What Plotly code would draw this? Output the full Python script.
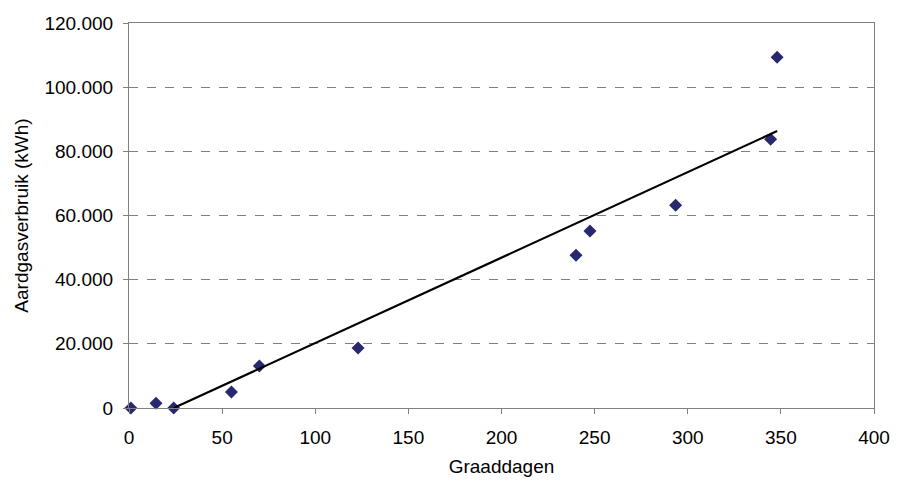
import plotly.graph_objects as go

graaddagen = [1, 14.5, 24, 55, 70, 123, 240, 247.5, 293.5, 344.5, 348]
verbruik = [0, 1500, 0, 5000, 13100, 18700, 47600, 55200, 63200, 83800, 109300]
trend_x = [24, 348]
trend_y = [0, 86300]

x_ticks = [0, 50, 100, 150, 200, 250, 300, 350, 400]
y_ticks = [0, 20000, 40000, 60000, 80000, 100000, 120000]

fig = go.Figure()
fig.add_trace(go.Scatter(
    x=graaddagen, y=verbruik, mode="markers",
    marker=dict(symbol="diamond", size=10, color="#28286e"),
    showlegend=False, cliponaxis=False,
))
fig.add_trace(go.Scatter(
    x=trend_x, y=trend_y, mode="lines",
    line=dict(color="black", width=2.2),
    showlegend=False,
))

font = dict(family="Liberation Sans, Arial, sans-serif", size=19, color="black")
fig.update_layout(
    width=906, height=481,
    margin=dict(l=121, r=40, t=15, b=81),
    plot_bgcolor="white", paper_bgcolor="white",
    separators=",.",
    font=font,
    xaxis=dict(
        range=[0, 400], tickvals=x_ticks, showgrid=False, zeroline=False,
        showline=True, linecolor="#808080", linewidth=1.2, mirror=True,
        ticks="outside", ticklen=5, tickcolor="#808080",
        ticklabelstandoff=7, automargin=False,
        title=dict(text="Graaddagen", font=font, standoff=12),
        tickfont=font,
    ),
    yaxis=dict(
        range=[0, 120000], tickvals=y_ticks, tickformat=",.0f",
        showgrid=True, gridcolor="#808080", griddash="dash", gridwidth=1,
        zeroline=False,
        showline=True, linecolor="#808080", linewidth=1.2, mirror=True,
        ticks="outside", ticklen=5, tickcolor="#808080",
        ticklabelstandoff=6, automargin=False,
        title=dict(text="Aardgasverbruik (kWh)", font=font, standoff=10),
        tickfont=font,
    ),
)
fig.write_html("out.html")
